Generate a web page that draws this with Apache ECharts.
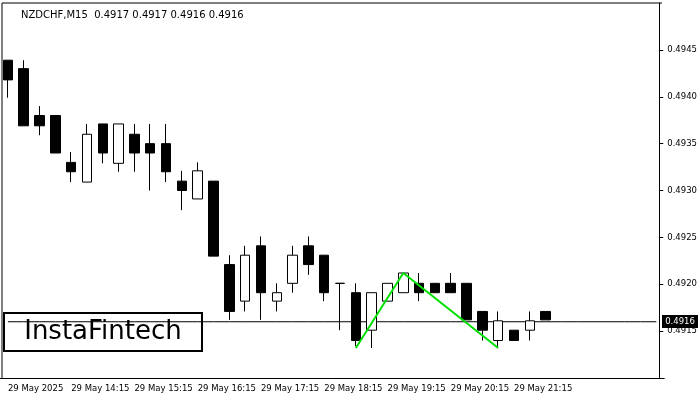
<!DOCTYPE html>
<html><head><meta charset="utf-8">
<script src="https://cdn.jsdelivr.net/npm/echarts@6/dist/echarts.min.js"></script>
<style>html,body{margin:0;padding:0;background:#fff}#c{width:700px;height:400px}</style>
</head><body><div id="c"></div>
<script>
const times = ["13:15","13:30","13:45","14:00","14:15","14:30","14:45","15:00","15:15","15:30","15:45","16:00","16:15","16:30","16:45","17:00","17:15","17:30","17:45","18:00","18:15","18:30","18:45","19:00","19:15","19:30","19:45","20:00","20:15","20:30","20:45","21:00","21:15","21:30","21:45"];
// [open, close, low, high]
const ohlc = [
[0.49439,0.49418,0.49399,0.49439],
[0.49430,0.49369,0.49369,0.49439],
[0.49380,0.49369,0.49359,0.49390],
[0.49380,0.49340,0.49340,0.49380],
[0.49330,0.49320,0.49309,0.49341],
[0.49309,0.49360,0.49309,0.49371],
[0.49371,0.49340,0.49329,0.49371],
[0.49329,0.49371,0.49320,0.49371],
[0.49360,0.49340,0.49320,0.49371],
[0.49350,0.49340,0.49300,0.49371],
[0.49350,0.49320,0.49309,0.49371],
[0.49310,0.49300,0.49279,0.49321],
[0.49291,0.49321,0.49291,0.49330],
[0.49310,0.49230,0.49230,0.49310],
[0.49221,0.49171,0.49162,0.49231],
[0.49182,0.49231,0.49171,0.49241],
[0.49241,0.49191,0.49162,0.49251],
[0.49182,0.49191,0.49171,0.49201],
[0.49201,0.49231,0.49191,0.49241],
[0.49241,0.49221,0.49210,0.49251],
[0.49231,0.49191,0.49182,0.49231],
[0.49201,0.49201,0.49151,0.49201],
[0.49191,0.49140,0.49134,0.49201],
[0.49151,0.49191,0.49132,0.49191],
[0.49182,0.49201,0.49182,0.49201],
[0.49191,0.49212,0.49191,0.49212],
[0.49201,0.49191,0.49182,0.49212],
[0.49201,0.49191,0.49191,0.49201],
[0.49201,0.49191,0.49191,0.49212],
[0.49201,0.49162,0.49162,0.49201],
[0.49171,0.49151,0.49140,0.49171],
[0.49140,0.49161,0.49132,0.49171],
[0.49151,0.49140,0.49140,0.49151],
[0.49151,0.49161,0.49140,0.49171],
[0.49171,0.49162,0.49162,0.49171]
];
const patternIdx = [22, 25, 31];
const patternVal = [0.49132, 0.49212, 0.49132];
const lastPrice = 0.4916;
const title = "NZDCHF,M15  0.4917 0.4917 0.4916 0.4916";

const cats = times.map(t => "29 May " + t);
while (cats.length < 42) cats.push("");
const pattern = cats.map(() => null);
patternIdx.forEach((i,k)=>pattern[i]=patternVal[k]);
const priceLine = cats.map(() => lastPrice);

const chart = echarts.init(document.getElementById('c'));
chart.setOption({
  animation:false,
  title:{text:title,left:16,top:5,textStyle:{fontSize:10,fontWeight:'normal',color:'#000',fontFamily:'DejaVu Sans'}},
  grid:{left:-4,right:33,top:3,bottom:22,show:false},
  xAxis:{type:'category',data:cats,boundaryGap:true,
    axisLine:{lineStyle:{color:'#000'}},
    axisTick:{alignWithLabel:true,interval:i=>i%4===0&&i<35,lineStyle:{color:'#000'},length:4},
    axisLabel:{interval:i=>i%4===0&&i<35,color:'#000',fontSize:8.5,fontFamily:'DejaVu Sans',align:'left',margin:6,
      formatter:(v,i)=>i===0?"29 May 2025":v}},
  yAxis:{type:'value',position:'right',offset:-5,min:0.4910,max:0.4950,interval:0.0005,
    splitLine:{show:false},
    axisLine:{show:true,lineStyle:{color:'#000'}},
    axisTick:{show:true,length:4,lineStyle:{color:'#000'}},
    axisLabel:{showMinLabel:false,showMaxLabel:false,color:'#000',fontSize:8.5,fontFamily:'DejaVu Sans',formatter:v=>v.toFixed(4)}},
  series:[
    {type:'line',data:priceLine,symbol:'none',lineStyle:{color:'#000',width:1},z:1,
      endLabel:{show:false}},
    {type:'candlestick',data:ohlc,barWidth:10,z:3,
      itemStyle:{color:'#fff',color0:'#000',borderColor:'#000',borderColor0:'#000',borderWidth:1}},
    {type:'line',data:pattern,connectNulls:true,symbol:'none',lineStyle:{color:'#00e000',width:2},z:5}
  ],
  graphic:[
    {type:'line',shape:{x1:2,y1:3,x2:2,y2:378},style:{stroke:'#000',lineWidth:1}},
    {type:'line',shape:{x1:2,y1:3,x2:662,y2:3},style:{stroke:'#000',lineWidth:1}},
    {type:'group',left:662,top:315,children:[
      {type:'rect',shape:{x:0,y:0,width:36,height:13},style:{fill:'#000'}},
      {type:'text',x:18,y:7,style:{text:lastPrice.toFixed(4),fill:'#fff',font:'8.5px "DejaVu Sans"',align:'center',verticalAlign:'middle'}}
    ]},
    {type:'group',left:3,top:312,children:[
      {type:'rect',shape:{x:0,y:0,width:198,height:38},style:{fill:'#fff',stroke:'#000',lineWidth:2}},
      {type:'text',x:99,y:19,style:{text:'InstaFintech',fill:'#000',font:'26px "DejaVu Sans"',align:'center',verticalAlign:'middle'}}
    ]}
  ]
});
</script></body></html>
